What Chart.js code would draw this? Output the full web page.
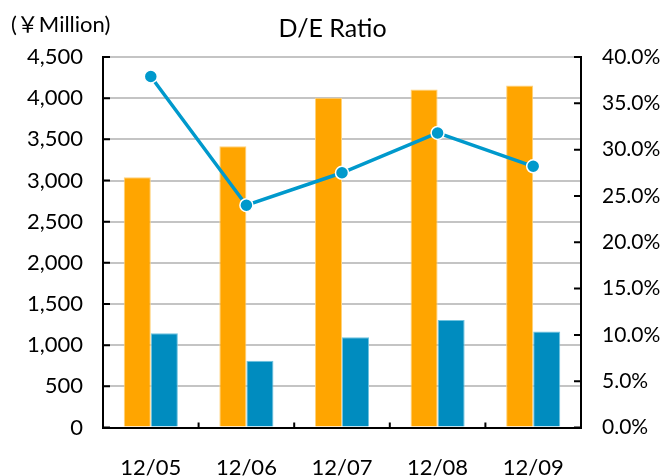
<!DOCTYPE html>
<html>
<head>
<meta charset="utf-8">
<script src="https://cdn.jsdelivr.net/npm/chart.js@4/dist/chart.umd.min.js"></script>
<style>
html,body{margin:0;padding:0;background:#fff;}
#wrap{width:665px;height:476px;position:relative;}
</style>
</head>
<body>
<div id="wrap"><canvas id="c" width="665" height="476"></canvas></div>
<script>
const categories = ['12/05', '12/06', '12/07', '12/08', '12/09'];
const equity = [3040, 3415, 4005, 4105, 4155];
const debt = [1145, 810, 1095, 1305, 1165];
const deRatio = [37.9, 24.0, 27.5, 31.8, 28.2];
const unitLabel = '(￥Million)';
const titleText = 'D/E Ratio';

const FONT = 'Lato, "Noto Sans CJK JP", sans-serif';

const innerTicks = {
  id: 'innerTicks',
  afterDraw(chart) {
    const ctx = chart.ctx;
    const y = chart.scales.y, y1 = chart.scales.y1, x = chart.scales.x;
    const a = chart.chartArea;
    ctx.save();
    ctx.strokeStyle = '#000';
    ctx.lineWidth = 2;
    ctx.beginPath();
    y.ticks.forEach(t => {
      const py = y.getPixelForValue(t.value);
      ctx.moveTo(a.left, py); ctx.lineTo(a.left + 7, py);
    });
    y1.ticks.forEach(t => {
      const py = y1.getPixelForValue(t.value);
      ctx.moveTo(a.right - 7, py); ctx.lineTo(a.right, py);
    });
    for (let i = 1; i < categories.length; i++) {
      const px = (x.getPixelForValue(i - 1) + x.getPixelForValue(i)) / 2;
      ctx.moveTo(px, a.bottom); ctx.lineTo(px, a.bottom - 5);
    }
    ctx.stroke();
    ctx.fillStyle = '#000';
    ctx.font = '22px ' + FONT;
    ctx.textBaseline = 'middle';
    ctx.textAlign = 'left';
    ctx.fillText(unitLabel, 11, 25);
    ctx.restore();
  }
};

new Chart(document.getElementById('c'), {
  data: {
    labels: categories,
    datasets: [
      {
        type: 'line', label: 'D/E Ratio', data: deRatio, yAxisID: 'y1', order: 0,
        borderColor: '#0099cc', borderWidth: 3.5,
        pointRadius: 6.5, pointBorderWidth: 1.5, pointBorderColor: '#ffffff',
        pointBackgroundColor: '#0099cc', tension: 0
      },
      {
        type: 'bar', label: 'Equity', data: equity, yAxisID: 'y', order: 1,
        backgroundColor: '#ffa500', borderColor: '#ffd27a', borderWidth: 1,
        categoryPercentage: 0.566, barPercentage: 1.0
      },
      {
        type: 'bar', label: 'Debt', data: debt, yAxisID: 'y', order: 2,
        backgroundColor: '#008cbf', borderColor: '#6fc3e0', borderWidth: 1,
        categoryPercentage: 0.566, barPercentage: 1.0
      }
    ]
  },
  options: {
    responsive: false,
    animation: false,
    layout: { padding: 0 },
    plugins: {
      legend: { display: false },
      tooltip: { enabled: false },
      title: {
        display: true, text: titleText, color: '#000',
        font: { family: FONT, size: 25, weight: 'normal', lineHeight: 1.2 },
        padding: { top: 14, bottom: 13 }
      }
    },
    scales: {
      x: {
        grid: { display: false, drawTicks: false },
        border: { display: true, color: '#000', width: 2 },
        ticks: { color: '#000', padding: 27, font: { family: FONT, size: 22 }, maxRotation: 0 },
        afterFit(s) { s.height = 48.5; }
      },
      y: {
        position: 'left', min: 0, max: 4500,
        grid: { color: '#c4c4c4', lineWidth: 2, drawTicks: false },
        border: { display: true, color: '#000', width: 2 },
        ticks: {
          stepSize: 500, color: '#000', padding: 20,
          font: { family: FONT, size: 22 },
          callback: v => v.toLocaleString('en-US')
        },
        afterFit(s) { s.width = 103; }
      },
      y1: {
        position: 'right', min: 0, max: 40,
        grid: { display: false, drawTicks: false },
        border: { display: true, color: '#000', width: 2 },
        ticks: {
          stepSize: 5, color: '#000', padding: 21,
          font: { family: FONT, size: 21 },
          callback: v => v.toFixed(1) + '%'
        },
        afterFit(s) { s.width = 84; }
      }
    }
  },
  plugins: [innerTicks]
});
</script>
</body>
</html>
